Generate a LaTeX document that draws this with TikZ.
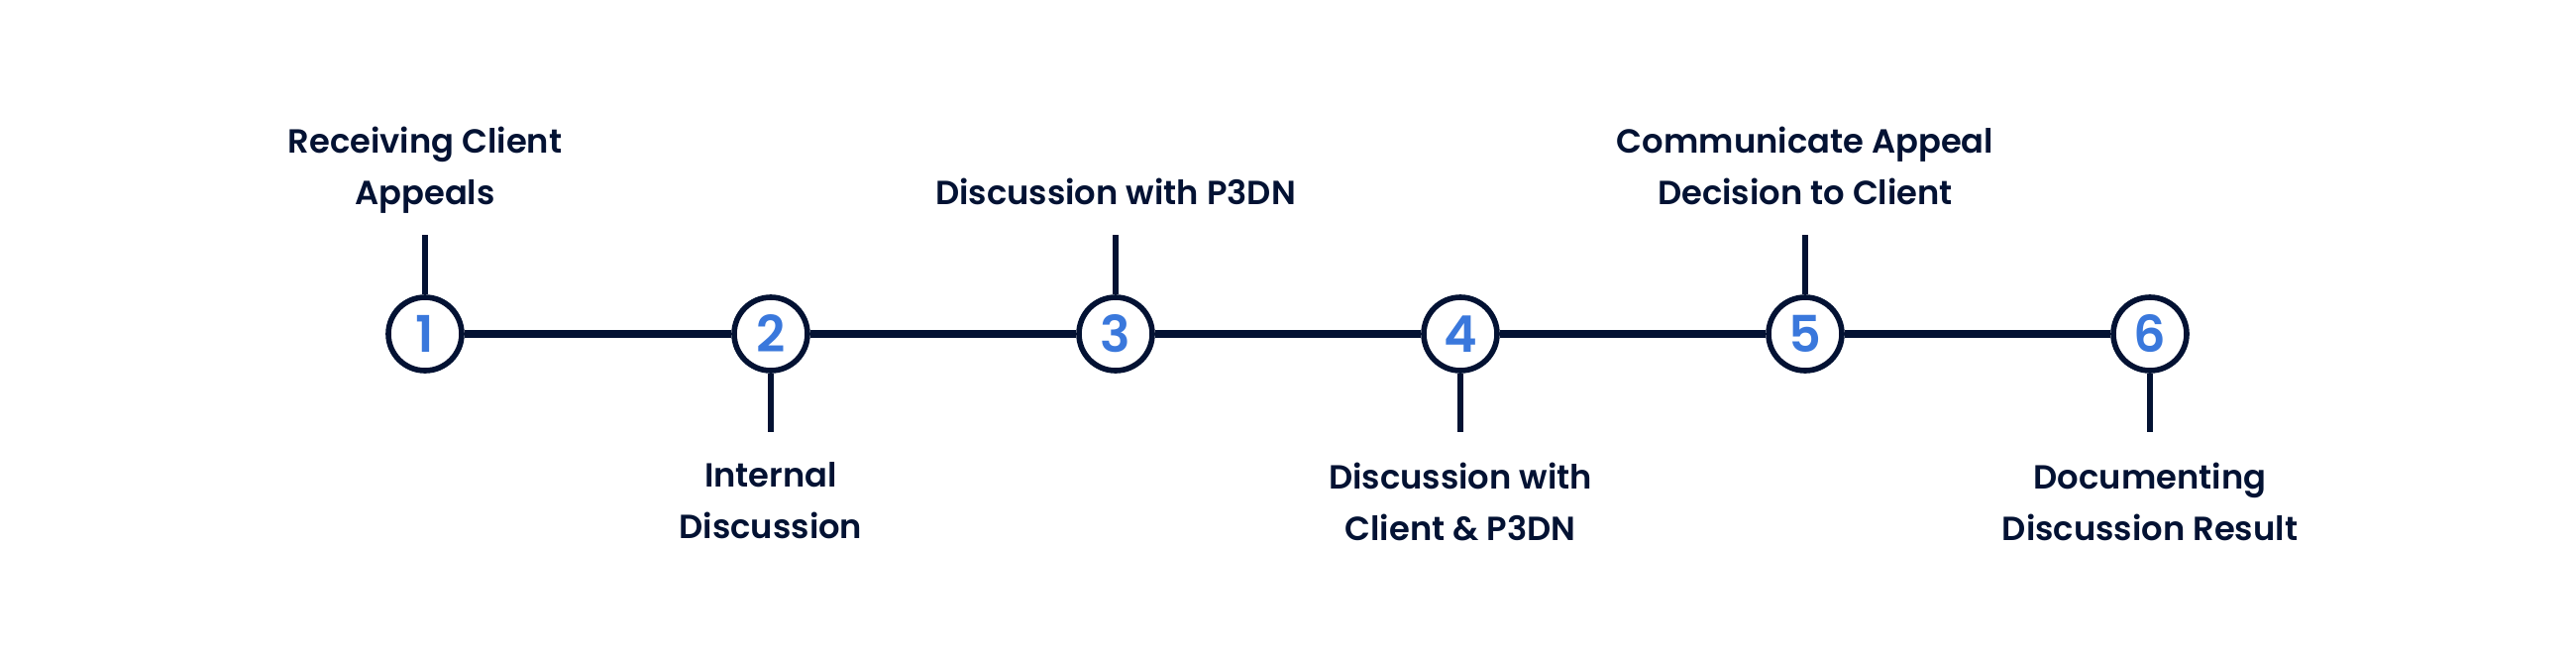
\documentclass[tikz,border=0pt]{standalone}
\usepackage{fontspec}
\setmainfont{Poppins}[UprightFont={* SemiBold},BoldFont={* Bold}]
\usepackage{xcolor}
\usepackage{tikz}
\usetikzlibrary{positioning}
\definecolor{navy}{HTML}{031233}
\definecolor{stepblue}{HTML}{3A78DC}
\tikzset{stepcircle/.style={draw=navy,fill=white,circle,line width=1.6pt,minimum size=0.74cm,inner sep=0pt,
  font=\fontsize{14.5}{16}\selectfont,text=stepblue},
spine/.style={navy,line width=2pt},
stem/.style={navy,line width=1.5pt},
steplabel/.style={text=navy,align=center,inner sep=0pt,font=\fontsize{9.6}{14.8}\selectfont},
toplabel/.style={steplabel,text depth=2.4pt}}

\begin{document}
\begin{tikzpicture}
\useasboundingbox (0,0) rectangle (26,6.6);
% steps on the timeline
\node[stepcircle] (s1) at (4.29,3.23) {1};
\node[stepcircle] (s2) at (7.78,3.23) {2};
\node[stepcircle] (s3) at (11.26,3.23) {3};
\node[stepcircle] (s4) at (14.74,3.23) {4};
\node[stepcircle] (s5) at (18.22,3.23) {5};
\node[stepcircle] (s6) at (21.70,3.23) {6};
% timeline segments between steps
\draw[spine] (s1) -- (s2);
\draw[spine] (s2) -- (s3);
\draw[spine] (s3) -- (s4);
\draw[spine] (s4) -- (s5);
\draw[spine] (s5) -- (s6);
% free ends of the stems
\coordinate (t1) at (4.29,4.23);
\coordinate (t2) at (7.78,2.24);
\coordinate (t3) at (11.26,4.23);
\coordinate (t4) at (14.74,2.24);
\coordinate (t5) at (18.22,4.23);
\coordinate (t6) at (21.70,2.24);
\draw[stem] (s1) -- (t1);
\draw[stem] (s2) -- (t2);
\draw[stem] (s3) -- (t3);
\draw[stem] (s4) -- (t4);
\draw[stem] (s5) -- (t5);
\draw[stem] (s6) -- (t6);
% labels above and below
\node[toplabel,above=0.21cm of t1] (l1) {Receiving Client\\Appeals};
\node[steplabel,below=0.30cm of t2] (l2) {Internal\\Discussion};
\node[toplabel,above=0.21cm of t3] (l3) {Discussion with P3DN};
\node[steplabel,below=0.30cm of t4] (l4) {Discussion with\\Client \& P3DN};
\node[toplabel,above=0.21cm of t5] (l5) {Communicate Appeal\\Decision to Client};
\node[steplabel,below=0.30cm of t6] (l6) {Documenting\\Discussion Result};
\end{tikzpicture}
\end{document}
